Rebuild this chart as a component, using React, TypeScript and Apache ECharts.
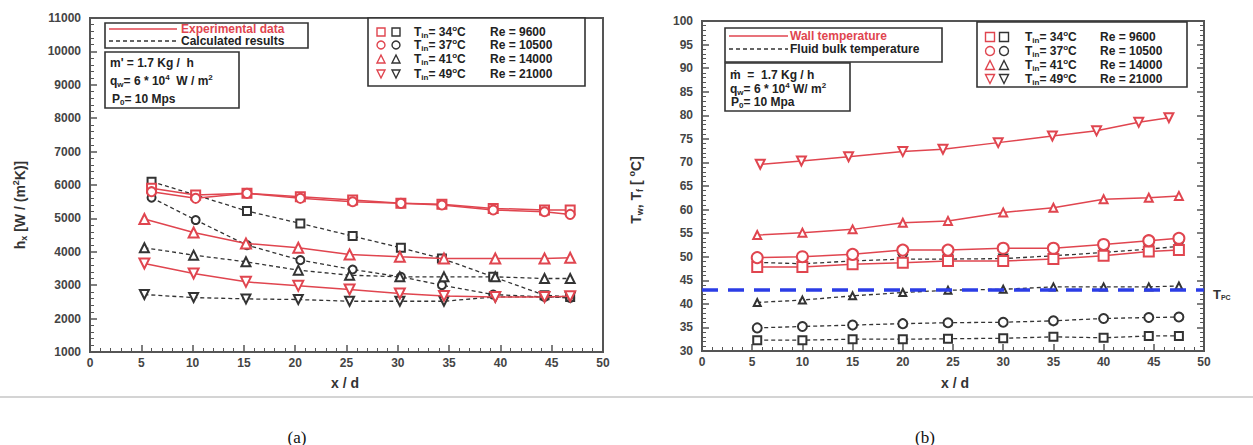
import React, { useEffect, useRef } from 'react';
import * as echarts from 'echarts';

// ---------- Chart (a): local heat transfer coefficient ----------
const xA1 = [6, 10.3, 15.3, 20.5, 25.6, 30.3, 34.3, 39.3, 44.3, 46.8];
const xA2 = [5.3, 10.1, 15.2, 20.3, 25.3, 30.2, 34.5, 39.5, 44.3, 46.8];
const expSq = [5900, 5700, 5750, 5650, 5550, 5450, 5420, 5300, 5250, 5250];
const expCi = [5800, 5600, 5750, 5600, 5500, 5450, 5400, 5250, 5200, 5120];
const expTr = [4980, 4580, 4250, 4120, 3920, 3850, 3800, 3800, 3800, 3820];
const expInv = [3650, 3350, 3100, 2980, 2870, 2750, 2680, 2650, 2650, 2670];
const calcSq = [6100, 5700, 5220, 4850, 4470, 4120, 3800, 3250, 2700, 2650];
const calcCi = [5620, 4950, 4200, 3750, 3470, 3250, 3000, 2720, 2650, 2620];
const calcTr = [4120, 3900, 3700, 3450, 3300, 3250, 3250, 3250, 3200, 3200];
const calcInv = [2720, 2630, 2590, 2570, 2520, 2520, 2520, 2650, 2650, 2650];

// ---------- Chart (b): wall and bulk temperatures ----------
const xB = [5.5, 10, 15, 20, 24.5, 30, 35, 40, 44.5, 47.5];
const xBInv = [5.8, 9.9, 14.6, 20, 24, 29.5, 34.9, 39.3, 43.5, 46.5];
const wallSq = [47.8, 47.8, 48.4, 48.7, 49.1, 49.1, 49.5, 50.2, 51.1, 51.4];
const wallCi = [49.8, 50.0, 50.5, 51.4, 51.4, 51.8, 51.8, 52.6, 53.4, 53.9];
const wallTr = [54.6, 55.1, 55.8, 57.2, 57.6, 59.4, 60.4, 62.2, 62.5, 62.9];
const wallInv = [69.6, 70.3, 71.2, 72.3, 72.8, 74.2, 75.6, 76.7, 78.5, 79.5];
const bulkSq = [32.3, 32.3, 32.5, 32.5, 32.6, 32.7, 33.0, 32.8, 33.2, 33.2];
const bulkCi = [34.9, 35.2, 35.5, 35.8, 36.0, 36.1, 36.4, 36.9, 37.1, 37.2];
const bulkTr = [40.3, 40.8, 41.7, 42.4, 42.9, 43.1, 43.6, 43.6, 43.6, 43.8];
const bulkInv = [48.8, 48.5, 49.1, 49.5, 49.5, 49.6, 50.2, 50.9, 51.6, 52.2];
const tPC = 43;

const legendRows = [
  { sym: 'rect', ta: '34', re: '9600' },
  { sym: 'circle', ta: '37', re: '10500' },
  { sym: 'tri', ta: '41', re: '14000' },
  { sym: 'inv', ta: '49', re: '21000' },
];

const RED = '#e0454f';
const BLK = '#333333';
const AX = '#555555';
const FONT = 'Arial, "Liberation Sans", sans-serif';
const LF = 12; // legend font size

const mk = (name: string, xs: number[], ys: number[], symbol: string, rot: number, color: string, dashed: boolean, g: number, size: number) => ({
  type: 'line',
  name,
  xAxisIndex: g,
  yAxisIndex: g,
  data: xs.map((x, i) => [x, ys[i]]),
  symbol,
  symbolRotate: rot,
  symbolSize: size,
  lineStyle: { color, width: dashed ? 1.3 : 1.5, type: dashed ? [4, 3] : 'solid' },
  itemStyle: { color, borderColor: color, borderWidth: 1.4 },
  z: dashed ? 3 : 4,
});

const RICH: any = {
  m: { fontFamily: FONT, fontWeight: 'bold', fontSize: LF, fill: '#222' },
  s: { fontFamily: FONT, fontWeight: 'bold', fontSize: 8, fill: '#222', verticalAlign: 'bottom', padding: [7, 0, 0, 0] },
  p: { fontFamily: FONT, fontWeight: 'bold', fontSize: 8, fill: '#222', verticalAlign: 'top', padding: [0, 0, 7, 0] },
};

const txt = (x: number, y: number, text: string, extra: any = {}) => ({
  type: 'text',
  x,
  y,
  z: 100,
  style: {
    text,
    fontFamily: FONT,
    fontWeight: 'bold',
    fontSize: LF,
    fill: '#222',
    verticalAlign: 'middle',
    rich: RICH,
    ...extra,
  },
});

const box = (x: number, y: number, w: number, h: number) => ({
  type: 'rect',
  z: 90,
  shape: { x, y, width: w, height: h },
  style: { fill: '#fff', stroke: '#333', lineWidth: 1.6 },
});

const marker = (kind: string, cx: number, cy: number, color: string, s: number) => {
  const st = { fill: 'none', stroke: color, lineWidth: 1.4 };
  if (kind === 'rect') return { type: 'rect', z: 100, shape: { x: cx - s / 2, y: cy - s / 2, width: s, height: s }, style: st };
  if (kind === 'circle') return { type: 'circle', z: 100, shape: { cx, cy, r: s / 2 }, style: st };
  if (kind === 'tri')
    return { type: 'polygon', z: 100, shape: { points: [[cx, cy - s / 2], [cx - s / 2, cy + s / 2], [cx + s / 2, cy + s / 2]] }, style: st };
  return { type: 'polygon', z: 100, shape: { points: [[cx, cy + s / 2], [cx - s / 2, cy - s / 2], [cx + s / 2, cy - s / 2]] }, style: st };
};

const axisLabel = { fontFamily: FONT, fontWeight: 'bold', fontSize: 12, color: '#444' };
const plain = (v: number) => String(v);

const xAxisCfg = (g: number) => ({
  type: 'value',
  gridIndex: g,
  min: 0,
  max: 50,
  interval: 5,
  axisLine: { show: true, onZero: false, lineStyle: { color: AX, width: 2 } },
  axisTick: { show: true, inside: true, length: 7, lineStyle: { color: AX, width: 1.5 } },
  minorTick: { show: true, splitNumber: 5, length: 4, lineStyle: { color: AX } },
  splitLine: { show: false },
  axisLabel: { ...axisLabel, margin: 5, formatter: plain },
});

const yAxisCfg = (g: number, min: number, max: number, interval: number, pos: string, labels: boolean) => ({
  type: 'value',
  gridIndex: g,
  position: pos,
  min,
  max,
  interval,
  axisLine: { show: true, onZero: false, lineStyle: { color: AX, width: 2 } },
  axisTick: { show: true, inside: true, length: 7, lineStyle: { color: AX, width: 1.5 } },
  minorTick: { show: true, splitNumber: 5, length: 4, lineStyle: { color: AX } },
  splitLine: { show: false },
  axisLabel: labels ? { ...axisLabel, margin: 9, formatter: plain } : { show: false },
});

export default function App() {
  const ref = useRef<HTMLDivElement>(null);
  useEffect(() => {
    if (!ref.current) return;
    const chart = echarts.init(ref.current, null, { renderer: 'svg' });

    const graphic: any[] = [];
    // Left legends
    graphic.push(box(105, 23, 203, 25));
    graphic.push({ type: 'line', z: 100, shape: { x1: 109, y1: 29, x2: 177, y2: 29 }, style: { stroke: RED, lineWidth: 1.5 } });
    graphic.push({ type: 'line', z: 100, shape: { x1: 109, y1: 41, x2: 177, y2: 41 }, style: { stroke: BLK, lineWidth: 1.3, lineDash: [4, 3] } });
    graphic.push(txt(181, 29, 'Experimental data', { fill: RED }));
    graphic.push(txt(181, 41, 'Calculated results'));
    graphic.push(box(105, 52, 134, 56));
    graphic.push(txt(110, 63, "{m|m' = 1.7 Kg /  h}"));
    graphic.push(txt(110, 81, '{m|q}{s|w}{m|= 6 * 10}{p|4}{m|  W / m}{p|2}'));
    graphic.push(txt(112, 99, '{m|P}{s|0}{m|= 10 Mps}'));
    graphic.push(box(368, 18, 217, 68));
    const lY = [32, 45, 59, 74];
    legendRows.forEach((r, i) => {
      graphic.push(marker(r.sym, 381, lY[i], RED, 8));
      graphic.push(marker(r.sym, 396, lY[i], BLK, 8));
      graphic.push(txt(414, lY[i], `{m|T}{s|in}{m|= ${r.ta}}{p|o}{m|C}`));
      graphic.push(txt(490, lY[i], `Re = ${r.re}`));
    });
    // Right legends
    graphic.push(box(725, 28, 217, 34));
    graphic.push({ type: 'line', z: 100, shape: { x1: 729, y1: 36, x2: 788, y2: 36 }, style: { stroke: RED, lineWidth: 1.5 } });
    graphic.push({ type: 'line', z: 100, shape: { x1: 729, y1: 49, x2: 788, y2: 49 }, style: { stroke: BLK, lineWidth: 1.3, lineDash: [4, 3] } });
    graphic.push(txt(790, 36, 'Wall temperature', { fill: RED }));
    graphic.push(txt(790, 49, 'Fluid bulk temperature'));
    graphic.push(box(725, 63, 125, 48));
    graphic.push(txt(730, 75, '{m|ṁ  =  1.7 Kg / h}'));
    graphic.push(txt(730, 89, '{m|q}{s|w}{m|= 6 * 10}{p|4}{m| W/ m}{p|2}'));
    graphic.push(txt(731, 102, '{m|P}{s|0}{m|= 10 Mpa}'));
    graphic.push(box(977, 22, 210, 65));
    const rY = [37, 51, 65, 79];
    legendRows.forEach((r, i) => {
      graphic.push(marker(r.sym, 990, rY[i], RED, 9));
      graphic.push(marker(r.sym, 1004, rY[i], BLK, 9));
      graphic.push(txt(1025, rY[i], `{m|T}{s|in}{m|= ${r.ta}}{p|o}{m|C}`));
      graphic.push(txt(1100, rY[i], `Re = ${r.re}`));
    });
    // Axis titles
    const titleRich = {
      m: { fontFamily: FONT, fontWeight: 'bold', fontSize: 14, fill: '#333' },
      s: { fontFamily: FONT, fontWeight: 'bold', fontSize: 9, fill: '#333', verticalAlign: 'bottom', padding: [8, 0, 0, 0] },
      p: { fontFamily: FONT, fontWeight: 'bold', fontSize: 9, fill: '#333', verticalAlign: 'top', padding: [0, 0, 8, 0] },
    };
    graphic.push({
      type: 'text', x: 20, y: 205, rotation: Math.PI / 2, z: 100,
      style: { text: '{m|h}{s|x}{m| [W / (m}{p|2}{m|K)]}', align: 'center', verticalAlign: 'middle', rich: titleRich },
    });
    graphic.push({
      type: 'text', x: 636, y: 190, rotation: Math.PI / 2, z: 100,
      style: { text: '{m|T}{s|w}{m|, T}{s|f}{m| [ }{p|o}{m|C]}', align: 'center', verticalAlign: 'middle', rich: titleRich },
    });
    graphic.push(txt(345, 383, 'x / d', { fontSize: 14, align: 'center', fill: '#333' }));
    graphic.push(txt(955, 383, 'x / d', { fontSize: 14, align: 'center', fill: '#333' }));
    graphic.push({
      type: 'text', x: 1213, y: 294, z: 100,
      style: {
        text: '{m|T}{s|PC}', verticalAlign: 'middle',
        rich: {
          m: { fontFamily: FONT, fontWeight: 'bold', fontSize: 13, fill: '#333' },
          s: { fontFamily: FONT, fontWeight: 'bold', fontSize: 7, fill: '#333', verticalAlign: 'bottom', padding: [6, 0, 0, 0] },
        },
      },
    });
    // Caption area
    graphic.push({ type: 'line', z: 100, shape: { x1: 0, y1: 397, x2: 1253, y2: 397 }, style: { stroke: '#d4d4d4', lineWidth: 2 } });
    graphic.push({ type: 'text', x: 297, y: 437, z: 100, style: { text: '(a)', fontFamily: '"Liberation Serif", "Times New Roman", serif', fontSize: 17, fill: '#111', align: 'center', verticalAlign: 'middle' } });
    graphic.push({ type: 'text', x: 925, y: 437, z: 100, style: { text: '(b)', fontFamily: '"Liberation Serif", "Times New Roman", serif', fontSize: 17, fill: '#111', align: 'center', verticalAlign: 'middle' } });

    const option: any = {
      animation: false,
      backgroundColor: '#ffffff',
      grid: [
        { left: 90, top: 18, width: 513, height: 334, show: true, borderColor: AX, borderWidth: 2, backgroundColor: 'transparent' },
        { left: 702, top: 21, width: 502, height: 330, show: true, borderColor: AX, borderWidth: 2, backgroundColor: 'transparent' },
      ],
      xAxis: [xAxisCfg(0), xAxisCfg(1)],
      yAxis: [
        yAxisCfg(0, 1000, 11000, 1000, 'left', true),
        yAxisCfg(1, 30, 100, 5, 'left', true),
        yAxisCfg(1, 30, 100, 5, 'right', false),
      ],
      series: [
        mk('calc Ta=34', xA1, calcSq, 'emptyRect', 0, BLK, true, 0, 8),
        mk('calc Ta=37', xA1, calcCi, 'emptyCircle', 0, BLK, true, 0, 8),
        mk('calc Ta=41', xA2, calcTr, 'emptyTriangle', 0, BLK, true, 0, 9),
        mk('calc Ta=49', xA2, calcInv, 'emptyTriangle', 180, BLK, true, 0, 9),
        mk('exp Ta=34', xA1, expSq, 'emptyRect', 0, RED, false, 0, 9),
        mk('exp Ta=37', xA1, expCi, 'emptyCircle', 0, RED, false, 0, 9),
        mk('exp Ta=41', xA2, expTr, 'emptyTriangle', 0, RED, false, 0, 10),
        mk('exp Ta=49', xA2, expInv, 'emptyTriangle', 180, RED, false, 0, 10),
        mk('bulk Ta=34', xB, bulkSq, 'emptyRect', 0, BLK, true, 1, 8),
        mk('bulk Ta=37', xB, bulkCi, 'emptyCircle', 0, BLK, true, 1, 9),
        {
          ...mk('bulk Ta=41', xB, bulkTr, 'emptyTriangle', 0, BLK, true, 1, 7),
          markLine: {
            silent: true,
            symbol: 'none',
            label: { show: false },
            lineStyle: { color: '#2b3de6', width: 3.5, type: [16, 10] },
            data: [{ yAxis: tPC }],
          },
        },
        mk('bulk Ta=49', xB, bulkInv, 'emptyTriangle', 180, BLK, true, 1, 8),
        mk('wall Ta=34', xB, wallSq, 'emptyRect', 0, RED, false, 1, 10),
        mk('wall Ta=37', xB, wallCi, 'emptyCircle', 0, RED, false, 1, 11),
        mk('wall Ta=41', xB, wallTr, 'emptyTriangle', 0, RED, false, 1, 8),
        mk('wall Ta=49', xBInv, wallInv, 'emptyTriangle', 180, RED, false, 1, 9),
      ],
      graphic,
    };
    chart.setOption(option);
    return () => chart.dispose();
  }, []);
  return <div ref={ref} style={{ position: 'absolute', left: 0, top: 0, width: 1253, height: 445, background: '#fff' }} />;
}
